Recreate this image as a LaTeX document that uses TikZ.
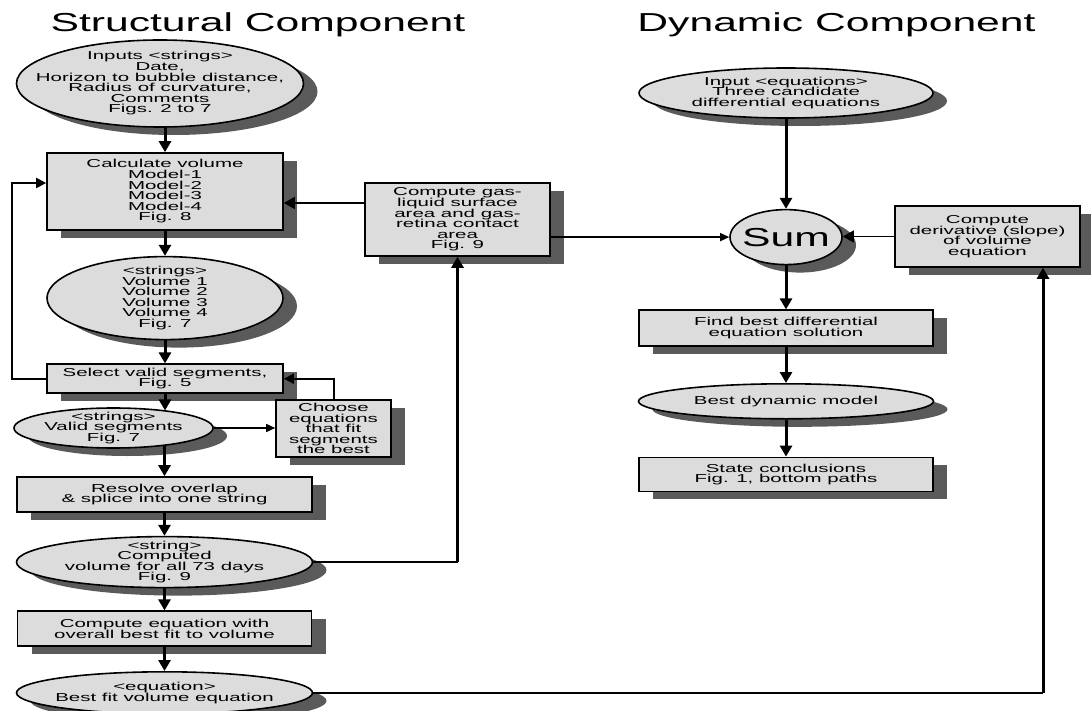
\documentclass[tikz,border=0pt]{standalone}
\usepackage{fontspec}
\setmainfont{Liberation Sans}
\newfontfamily\diafont[FakeStretch=1.78]{Liberation Sans}
\newfontfamily\headfont[FakeStretch=1.64]{Liberation Sans}
\usepackage{xcolor}
\usetikzlibrary{arrows.meta, positioning, shapes, shadows}
\definecolor{boxgray}{HTML}{DCDCDC}
\definecolor{shadowgray}{HTML}{5A5A5A}
\setlength{\lineskiplimit}{-20pt}

\begin{document}
\begin{tikzpicture}[
    x=1pt, y=-1pt,
    every node/.style={font=\diafont\fontsize{11.5pt}{10.6pt}\selectfont},
    heading/.style={font=\headfont\fontsize{26pt}{28pt}\selectfont, anchor=base},
    shade box/.style={drop shadow={shadow xshift=14pt, shadow yshift=-8pt, fill=shadowgray, opacity=1}},
    process/.style={rectangle, draw, line width=1.6pt, fill=boxgray, align=center, inner sep=2pt, shade box},
    data/.style={ellipse, draw, line width=1.6pt, fill=boxgray, align=center, inner xsep=-30pt, inner ysep=-10pt, shade box},
    flow/.style={line width=3pt, -{Triangle[length=11pt, width=12pt]}},
    link/.style={line width=1.5pt},
    linkarrow/.style={line width=1.5pt, -{Triangle[length=9pt, width=8pt]}},
    bigtip/.style={line width=1.5pt, -{Triangle[length=11pt, width=12pt]}},
]
    \useasboundingbox (0,0) rectangle (1091,711);

    % Headings
    \node[heading] (structural) at (258,32) {Structural Component};
    \node[heading] (dynamic) at (836.5,32) {Dynamic Component};

    % Structural component
    \node[data, minimum width=287pt, minimum height=87pt] (inputs) at (160,83.5) {Inputs <strings>\\Date,\\Horizon to bubble distance,\\Radius of curvature,\\Comments\\Figs. 2 to 7};
    \node[process, minimum width=236pt, minimum height=77pt] (calc) at (165,191.5) {Calculate volume\\Model-1\\Model-2\\Model-3\\Model-4\\Fig. 8};
    \node[data, minimum width=236pt, minimum height=83pt, below=25pt of calc] (volumes) {<strings>\\Volume 1\\Volume 2\\Volume 3\\Volume 4\\Fig. 7};
    \node[process, minimum width=236pt, minimum height=29pt, below=23pt of volumes] (select) {Select valid segments,\\Fig. 5};
    \node[data, minimum width=199pt, minimum height=40pt] (valid) at (113.5,428) {<strings>\\Valid segments\\Fig. 7};
    \node[process, minimum width=115pt, minimum height=57pt] (choose) at (333.5,428.5) {Choose\\equations\\that fit\\segments\\the best};
    \node[process, minimum width=295pt, minimum height=35pt] (resolve) at (164.5,494.5) {Resolve overlap\\\& splice into one string};
    \node[data, minimum width=296pt, minimum height=51pt, below=23pt of resolve] (computed) {<string>\\Computed\\volume for all 73 days\\Fig. 9};
    \node[process, minimum width=294pt, minimum height=35pt, below=22pt of computed] (fiteq) {Compute equation with\\overall best fit to volume};
    \node[data, minimum width=296pt, minimum height=42pt, below=24pt of fiteq] (bestfit) {<equation>\\Best fit volume equation};
    \node[process, minimum width=185pt, minimum height=73pt] (gas) at (457.5,219.5) {Compute gas-\\liquid surface\\area and gas-\\retina contact\\area\\Fig. 9};

    % Dynamic component
    \node[data, minimum width=294pt, minimum height=50pt] (inpeq) at (786,93) {Input <equations>\\Three candidate\\differential equations};
    \node[data, minimum width=112pt, minimum height=55pt, below=90pt of inpeq, font=\headfont\fontsize{26pt}{28pt}\selectfont] (sum) {Sum};
    \node[process, minimum width=185pt, minimum height=61pt] (deriv) at (987.5,236.5) {Compute\\derivative (slope)\\of volume\\equation};
    \node[process, minimum width=294pt, minimum height=36pt, below=44pt of sum] (findbest) {Find best differential\\equation solution};
    \node[data, minimum width=295pt, minimum height=35pt, below=36pt of findbest] (bestdyn) {Best dynamic model};
    \node[process, minimum width=294pt, minimum height=34pt, below=37pt of bestdyn] (state) {State conclusions\\Fig. 1, bottom paths};

    % Corner points
    \coordinate (loopin) at ([yshift=8.5pt]calc.west);
    \coordinate (gasout) at ([yshift=16.5pt]gas.west);
    \coordinate (up1) at (computed.east -| gas.south);
    \coordinate (up2) at ([xshift=55.5pt]deriv.south |- bestfit.east);

    % Connect structural part
    \draw[flow] (inputs.south -| calc.north) -- (calc.north);
    \draw[flow] (calc) -- (volumes);
    \draw[flow] (volumes) -- (select);
    \draw[flow] (select.south) -- (select.south |- valid.18);
    \draw[linkarrow] (valid.east) -- (valid.east -| choose.west);
    \draw[line width=2pt, -{Triangle[length=10pt, width=10pt]}] (choose.north) |- (select.east);
    \draw[line width=2pt, -{Triangle[length=10pt, width=10pt]}] (select.west) -- ++(-34,0) |- (loopin);
    \draw[flow] (resolve.north |- valid.-18) -- (resolve.north);
    \draw[flow] (resolve) -- (computed);
    \draw[flow] (computed) -- (fiteq);
    \draw[flow] (fiteq) -- (bestfit);
    \draw[bigtip] (gasout) -- (gasout -| calc.east);
    \draw[link] (computed.east) -- (up1);
    \draw[flow] (up1) -- (gas.south);

    % Connect dynamic part
    \draw[linkarrow] (sum.west -| gas.east) -- (sum.west);
    \draw[flow] (inpeq) -- (sum);
    \draw[bigtip] (deriv.west) -- (deriv.west -| sum.east);
    \draw[flow] (sum) -- (findbest);
    \draw[flow] (findbest) -- (bestdyn);
    \draw[flow] (bestdyn) -- (state);
    \draw[link] (bestfit.east) -- (up2);
    \draw[flow] (up2) -- (up2 |- deriv.south);
\end{tikzpicture}
\end{document}
